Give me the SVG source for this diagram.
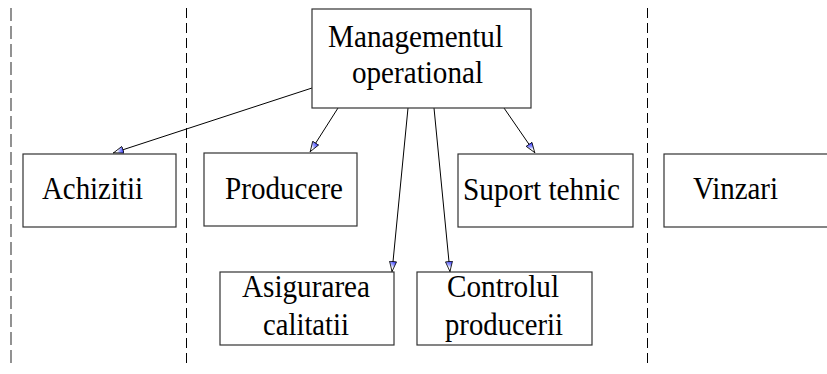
<svg xmlns="http://www.w3.org/2000/svg" width="827" height="374" viewBox="0 0 827 374">
  <style>
    .box { fill: #ffffff; stroke: #333333; stroke-width: 1.2; }
    .lbl { font-family: "Liberation Serif", "Times New Roman", serif; font-size: 32px; fill: #000000; }
    .link { fill: none; stroke: #000000; stroke-width: 1; marker-end: url(#arrow); }
    .lane { fill: none; stroke: #000000; stroke-width: 1; stroke-dasharray: 10 5; }
    .lane-edge { fill: none; stroke: #777777; stroke-width: 1.6; stroke-dasharray: 13 5; }
  </style>
  <defs>
    <linearGradient id="headFill" x1="0" y1="0" x2="1" y2="0.4">
      <stop offset="0" stop-color="#2a2aff"/>
      <stop offset="0.45" stop-color="#9aa0ff"/>
      <stop offset="0.7" stop-color="#ffffff"/>
    </linearGradient>
    <marker id="arrow" markerUnits="userSpaceOnUse" viewBox="0 0 11 8" markerWidth="11" markerHeight="8" refX="11" refY="4" orient="auto">
      <path d="M0.5,0.5 L10.5,4 L0.5,7.5 Z" fill="url(#headFill)" stroke="#000000" stroke-width="0.8"/>
    </marker>
  </defs>

  <!-- swimlane separators -->
  <g id="lanes">
    <line class="lane-edge" x1="11" y1="8" x2="11" y2="364"/>
    <line class="lane" x1="186.5" y1="8" x2="186.5" y2="364"/>
    <line class="lane" x1="647.5" y1="8" x2="647.5" y2="364"/>
  </g>

  <!-- connectors -->
  <g id="connectors">
    <line class="link" x1="312" y1="88" x2="113" y2="153"/>
    <line class="link" x1="338" y1="108" x2="310" y2="152"/>
    <line class="link" x1="408" y1="108" x2="392" y2="272"/>
    <line class="link" x1="434" y1="108" x2="450" y2="272"/>
    <line class="link" x1="504" y1="108" x2="535" y2="153"/>
  </g>

  <g id="management">
    <rect class="box" x="312" y="9" width="219" height="99"/>
    <text class="lbl" x="328" y="47" textLength="175" lengthAdjust="spacingAndGlyphs">Managementul</text>
    <text class="lbl" x="352" y="83" textLength="131" lengthAdjust="spacingAndGlyphs">operational</text>
  </g>

  <g id="achizitii">
    <rect class="box" x="23" y="154" width="153" height="73"/>
    <text class="lbl" x="42" y="199" textLength="101" lengthAdjust="spacingAndGlyphs">Achizitii</text>
  </g>

  <g id="producere">
    <rect class="box" x="204" y="153" width="153" height="73"/>
    <text class="lbl" x="225" y="199" textLength="118" lengthAdjust="spacingAndGlyphs">Producere</text>
  </g>

  <g id="suport">
    <rect class="box" x="458" y="154" width="175" height="73"/>
    <text class="lbl" x="463" y="200" textLength="157" lengthAdjust="spacingAndGlyphs">Suport tehnic</text>
  </g>

  <g id="vinzari">
    <rect class="box" x="664" y="154" width="175" height="73"/>
    <text class="lbl" x="693" y="199" textLength="85" lengthAdjust="spacingAndGlyphs">Vinzari</text>
  </g>

  <g id="asigurarea">
    <rect class="box" x="220" y="272" width="174" height="73"/>
    <text class="lbl" x="242" y="297" textLength="128" lengthAdjust="spacingAndGlyphs">Asigurarea</text>
    <text class="lbl" x="263" y="335" textLength="86" lengthAdjust="spacingAndGlyphs">calitatii</text>
  </g>

  <g id="controlul">
    <rect class="box" x="417" y="272" width="175" height="73"/>
    <text class="lbl" x="447" y="297" textLength="112" lengthAdjust="spacingAndGlyphs">Controlul</text>
    <text class="lbl" x="445" y="335" textLength="118" lengthAdjust="spacingAndGlyphs">producerii</text>
  </g>
</svg>
